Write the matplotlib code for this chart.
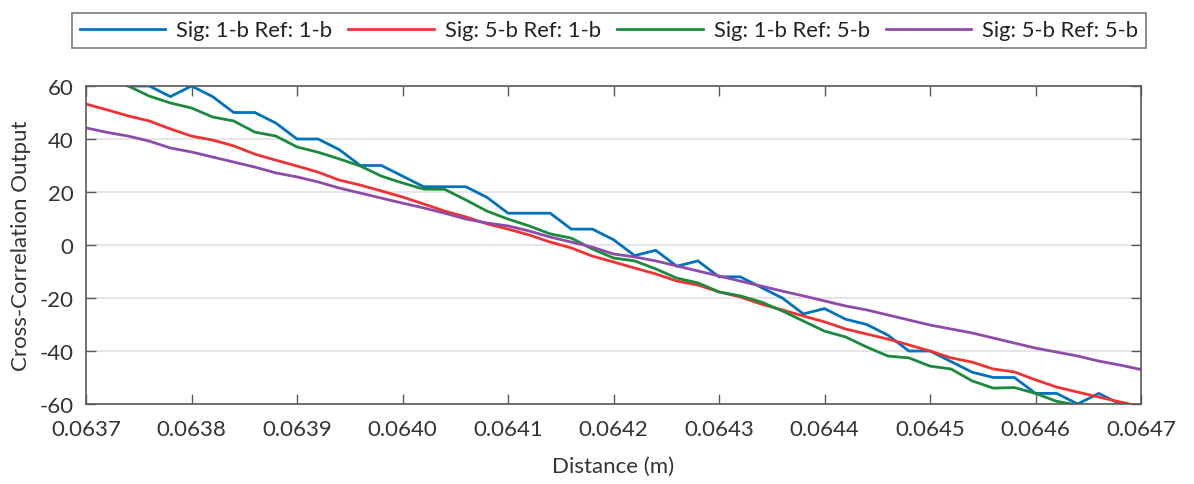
import numpy as np
import matplotlib
matplotlib.use("Agg")
import matplotlib.pyplot as plt

plt.rcParams['font.family'] = ['Lato', 'DejaVu Sans']
plt.rcParams['axes.unicode_minus'] = False

# sample positions (m)
distance = np.linspace(0.0637, 0.0647, 51)

sig1_ref1 = [64, 62, 60, 60, 56, 60, 56, 50, 50, 46,
             40, 40, 36, 30, 30, 26, 22, 22, 22, 18,
             12, 12, 12, 6, 6, 2, -4, -2, -8, -6,
             -12, -12, -16, -20, -26, -24, -28, -30, -34, -40,
             -40, -44, -48, -50, -50, -56, -56, -60, -56, -60,
             -62]
sig5_ref1 = [53.2, 51, 48.7, 46.8, 43.8, 41.1, 39.6, 37.4, 34.3, 32,
             29.8, 27.5, 24.5, 22.6, 20.4, 18.1, 15.5, 12.8, 10.6, 8,
             6, 3.8, 1.1, -1.1, -4.2, -6.4, -8.7, -10.9, -13.6, -15.1,
             -17.7, -19.6, -22.3, -24.5, -26.8, -29, -31.7, -33.6, -35.5, -37.7,
             -40, -42.6, -44.2, -46.8, -47.9, -50.9, -53.6, -55.5, -57.4, -59.2,
             -61]
sig1_ref5 = [68, 64, 60, 56.2, 53.6, 51.7, 48.3, 46.8, 42.6, 41.1,
             37, 35, 32.5, 29.8, 26, 23.4, 21.1, 21, 17, 12.8,
             9.8, 7.2, 4.2, 2.6, -1.5, -4.9, -6, -9, -12.5, -14.3,
             -17.7, -19.2, -21.5, -24.9, -28.7, -32.5, -34.7, -38.5, -41.9, -42.6,
             -45.7, -46.8, -51.3, -54, -53.8, -56, -59, -60.4, -62, -63,
             -65]
sig5_ref5 = [44.2, 42.5, 41.1, 39.2, 36.6, 35.1, 33.2, 31.3, 29.4, 27.2,
             25.7, 23.8, 21.5, 19.6, 17.7, 15.8, 14, 12, 9.8, 8.3,
             7.2, 5.3, 3, 1.1, -0.8, -3.4, -4.5, -6, -7.9, -9.8,
             -11.7, -13.6, -15.5, -17.4, -19.2, -21.1, -23, -24.5, -26.4, -28.3,
             -30.2, -31.7, -33.2, -35.1, -37, -38.9, -40.4, -41.9, -43.8, -45.3,
             -47]

labels = ["Sig: 1-b Ref: 1-b", "Sig: 5-b Ref: 1-b",
          "Sig: 1-b Ref: 5-b", "Sig: 5-b Ref: 5-b"]
colors = ["#0072BD", "#EE3333", "#1B8A3C", "#8E4BAA"]

x_ticks = [0.0637, 0.0638, 0.0639, 0.0640, 0.0641, 0.0642,
           0.0643, 0.0644, 0.0645, 0.0646, 0.0647]
y_ticks = [-60, -40, -20, 0, 20, 40, 60]

fig = plt.figure(figsize=(11.94, 4.85), dpi=100)
ax = fig.add_axes([86/1194, 80/485, (1141-86)/1194, (405-87)/485])

series = [sig1_ref1, sig5_ref1, sig1_ref5, sig5_ref5]
handles = []
for ys, c, lab in zip(series, colors, labels):
    h, = ax.plot(distance, ys, color=c, lw=2.0, label=lab, solid_joinstyle='miter')
    handles.append(h)

ax.set_xlim(0.0637, 0.0647)
ax.set_ylim(-60, 60)
ax.set_xticks(x_ticks)
ax.set_xticklabels([f"{t:.4f}" for t in x_ticks])
ax.set_yticks(y_ticks)
ax.set_yticklabels([str(t) for t in y_ticks])
ax.yaxis.grid(True, color='#e3e3e3', lw=1.3)
ax.set_axisbelow(True)
for s in ax.spines.values():
    s.set_color('#5a5a5a')
    s.set_linewidth(1.2)
ax.tick_params(direction='in', length=7, width=1.0, color='#5a5a5a',
               top=True, right=True, labelsize=16, labelcolor='#333333')
ax.tick_params(axis='x', pad=11)
ax.tick_params(axis='y', pad=9)
ax.set_xlabel("Distance (m)", fontsize=16, color='#333333', labelpad=12)
ax.set_ylabel("Cross-Correlation Output", fontsize=16, color='#333333', labelpad=6)

leg = fig.legend(handles=handles, labels=labels, loc='lower left',
                 bbox_to_anchor=(72/1194, 1 - 49/485, (1146-72)/1194, 42/485),
                 mode='expand', ncol=4, fontsize=15.8, handlelength=3.9,
                 frameon=True, fancybox=False, borderaxespad=0,
                 handletextpad=0.5, columnspacing=0.8, borderpad=0.35)
leg.get_frame().set_edgecolor('#5a5a5a')
leg.get_frame().set_linewidth(1.2)
for t in leg.get_texts():
    t.set_color('#222222')

fig.savefig("out.png", dpi=100)
